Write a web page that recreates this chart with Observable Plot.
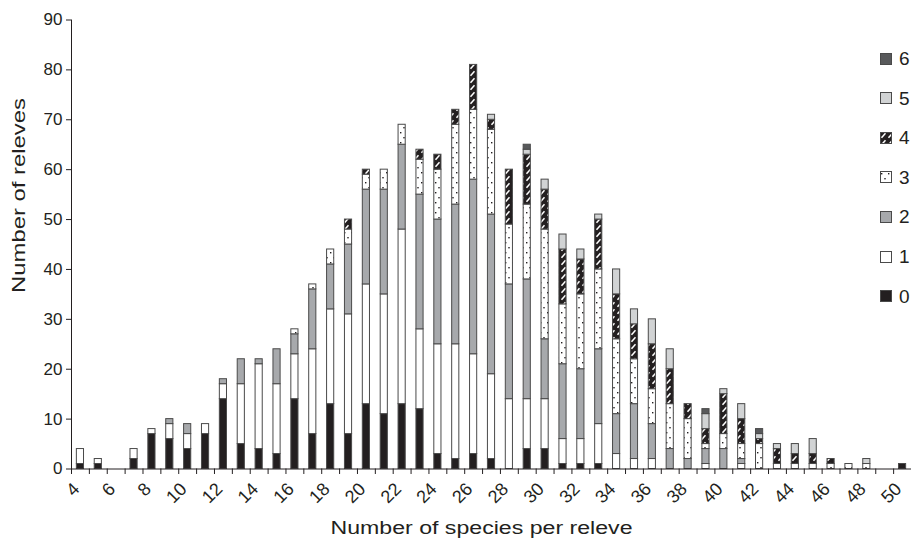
<!DOCTYPE html>
<html><head><meta charset="utf-8">
<script src="https://cdn.jsdelivr.net/npm/d3@7"></script>
<script src="https://cdn.jsdelivr.net/npm/@observablehq/plot@0.6"></script>
<style>
body{margin:0;background:#fff;}
#wrap{position:relative;width:911px;height:542px;font-family:"Liberation Sans",Arial,sans-serif;color:#231f20;overflow:hidden;}
.leg{position:absolute;left:880px;height:14px;display:flex;align-items:center;font-size:19px;line-height:14px;}
.leg svg{margin-right:6px;}
</style></head><body>
<svg width="0" height="0" style="position:absolute">
<defs>
<pattern id="p-dots" patternUnits="userSpaceOnUse" width="7" height="10">
<rect width="7" height="10" fill="#fff"/>
<rect x="1" y="2" width="1.4" height="1.4" fill="#231f20"/>
<rect x="4.3" y="7" width="1.4" height="1.4" fill="#231f20"/>
</pattern>
<pattern id="p-hatch" patternUnits="userSpaceOnUse" width="7" height="7">
<rect width="7" height="7" fill="#231f20"/>
<path d="M1.5,5.8 L5.5,1.2" stroke="#fff" stroke-width="1.5"/>
</pattern>
</defs>
</svg>
<div id="wrap"></div>
<script>
// Number of species per releve (categories) and counts per series 0..6
const categories = [4,5,6,7,8,9,10,11,12,13,14,15,16,17,18,19,20,21,22,23,24,25,26,27,28,29,30,31,32,33,34,35,36,37,38,39,40,41,42,43,44,45,46,47,48,49,50];
const seriesNames = ["0","1","2","3","4","5","6"];
const s0 = [1,1,0,2,7, 6,4,7,14,5, 4,3,14,7,13, 7,13,11,13,12, 3,2,3,2,0, 4,4,1,1,1, 0,0,0,0,0, 0,0,0,0,0, 0,0,0,0,0, 0,1];
const s1 = [3,1,0,2,1, 3,3,2,3,12, 17,14,9,17,19, 24,24,24,35,16, 22,23,20,17,14, 10,10,5,5,8, 3,2,2,0,0, 1,0,1,0,1, 1,1,0,0,0, 0,0];
const s2 = [0,0,0,0,0, 1,2,0,1,5, 1,7,4,12,9, 14,19,21,17,27, 25,28,35,32,23, 24,12,15,14,15, 8,11,7,4,2, 3,4,1,0,0, 0,0,0,0,0, 0,0];
const s3 = [0,0,0,0,0, 0,0,0,0,0, 0,0,1,1,3, 3,3,4,4,7, 10,16,14,17,12, 15,22,12,15,16, 15,9,7,9,8, 1,3,3,5,0, 0,0,1,1,1, 0,0];
const s4 = [0,0,0,0,0, 0,0,0,0,0, 0,0,0,0,0, 2,1,0,0,2, 3,3,9,2,11, 10,8,11,7,10, 9,7,9,7,3, 3,8,5,1,3, 2,2,1,0,0, 0,0];
const s5 = [0,0,0,0,0, 0,0,0,0,0, 0,0,0,0,0, 0,0,0,0,0, 0,0,0,1,0, 1,2,3,2,1, 5,3,5,4,0, 3,1,3,1,1, 2,3,0,0,1, 0,0];
const s6 = [0,0,0,0,0, 0,0,0,0,0, 0,0,0,0,0, 0,0,0,0,0, 0,0,0,0,0, 1,0,0,0,0, 0,0,0,0,0, 1,0,0,1,0, 0,0,0,0,0, 0,0];
const xTickLabels = [4,6,8,10,12,14,16,18,20,22,24,26,28,30,32,34,36,38,40,42,44,46,48,50];
const yTicks = [0,10,20,30,40,50,60,70,80,90];
const xTitle = "Number of species per releve";
const yTitle = "Number of releves";
const fills = ["#231f20","#ffffff","#a7a9ac","url(#p-dots)","url(#p-hatch)","#d1d3d4","#58595b"];

const seriesList = [s0,s1,s2,s3,s4,s5,s6];
const rows = [];
categories.forEach((c,i) => seriesNames.forEach((s,k) => {
  const n = seriesList[k][i];
  if (n > 0) rows.push({cat: c, series: s, n});
}));

const W = 911, H = 542, ML = 71, MR = 0;
const step = (W - ML - MR) / categories.length;
const ink = "#231f20";

const chart = Plot.plot({
  width: W, height: H,
  marginLeft: ML, marginRight: MR, marginTop: 19.5, marginBottom: 73.5,
  style: {fontFamily: "'Liberation Sans', Arial, sans-serif", fontSize: "17px", color: ink, background: "white", overflow: "visible"},
  x: {type: "band", domain: categories, paddingInner: 0.6, paddingOuter: 0.3, axis: null},
  y: {domain: [0, 90]},
  color: {type: "ordinal", domain: seriesNames, range: fills},
  marks: [
    Plot.barY(rows, {x: "cat", y: "n", fill: "series", stroke: "#4a4a4a", strokeWidth: 1}),
    Plot.ruleY([0], {stroke: ink, strokeWidth: 1}),
    Plot.ruleX(categories, {x: d => d, y1: 0, y2: -1.1, dx: -step / 2, stroke: ink}),
    Plot.ruleX([categories[categories.length - 1]], {x: d => d, y1: 0, y2: -1.1, dx: step / 2, stroke: ink}),
    Plot.frame({anchor: "left", stroke: ink}),
    Plot.axisY({ticks: yTicks, tickSize: 5, tickPadding: 4, label: null, stroke: ink}),
    Plot.text(xTickLabels, {x: d => d, y: 0, text: d => String(d), rotate: -45, textAnchor: "end", lineAnchor: "middle", dx: -4, dy: 17, fontSize: 18, fill: ink}),
    Plot.text([xTitle], {text: d => d, frameAnchor: "bottom", textAnchor: "middle", dx: -10, dy: 65, fontSize: 18, fill: ink}),
    Plot.text([yTitle], {text: d => d, frameAnchor: "left", textAnchor: "middle", rotate: -90, dx: -52, dy: -49, fontSize: 18, fill: ink})
  ]
});

chart.querySelectorAll("text").forEach(t => {
  if (t.textContent === xTitle) { t.setAttribute("textLength", 302); t.setAttribute("lengthAdjust", "spacingAndGlyphs"); }
  if (t.textContent === yTitle) { t.setAttribute("textLength", 195); t.setAttribute("lengthAdjust", "spacingAndGlyphs"); }
});

const wrap = document.getElementById("wrap");
wrap.appendChild(chart);

// legend (top: 6 ... bottom: 0)
const legTop = 52, legGap = 39.6;
seriesNames.slice().reverse().forEach((s, j) => {
  const k = seriesNames.indexOf(s);
  const d = document.createElement("div");
  d.className = "leg";
  d.style.top = (legTop + j * legGap) + "px";
  d.innerHTML = `<svg width="13" height="13"><rect x="0.5" y="0.5" width="11" height="11" fill="${fills[k]}" stroke="#4a4a4a"/></svg><span>${s}</span>`;
  wrap.appendChild(d);
});
</script>
</body></html>
